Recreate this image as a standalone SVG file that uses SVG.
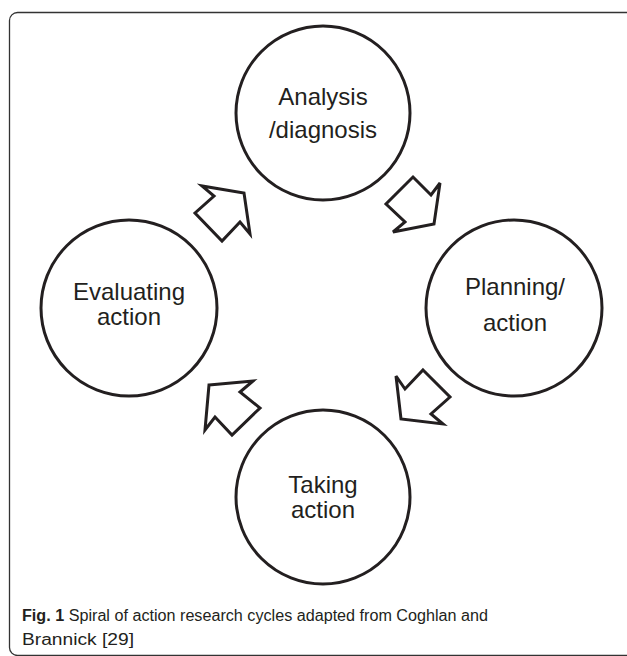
<svg xmlns="http://www.w3.org/2000/svg" width="627" height="656" viewBox="0 0 627 656">
<style>
.node{fill:#fff;stroke:#231f20;stroke-width:3}
.lbl{font-family:"Liberation Sans",Arial,sans-serif;font-size:24px;fill:#231f20;text-anchor:middle}
.arrow{fill:#fff;stroke:#231f20;stroke-width:3;stroke-linejoin:miter}
.cap{font-family:"Liberation Sans",Arial,sans-serif;font-size:16px;fill:#231f20}
</style>
<rect x="9.5" y="12.5" width="640" height="643" rx="8" fill="#fff" stroke="#333" stroke-width="1.3"/>
<g id="analysis">
<circle class="node" cx="323" cy="113" r="87"/>
<text class="lbl" x="323" y="105">Analysis</text>
<text class="lbl" x="323" y="138">/diagnosis</text>
</g>
<g id="planning">
<circle class="node" cx="514" cy="308" r="88"/>
<text class="lbl" x="515" y="295">Planning/</text>
<text class="lbl" x="515" y="331">action</text>
</g>
<g id="taking">
<circle class="node" cx="323" cy="497" r="87"/>
<text class="lbl" x="323" y="493">Taking</text>
<text class="lbl" x="323" y="518">action</text>
</g>
<g id="evaluating">
<circle class="node" cx="129" cy="308" r="88"/>
<text class="lbl" x="129" y="300">Evaluating</text>
<text class="lbl" x="129" y="325">action</text>
</g>
<g id="connectors">
<polygon class="arrow" points="244,193 250,234 240,222 222,241 195,213 214,196 202,186"/>
<polygon class="arrow" points="413,177 431,195 440,183 434,224 393,232 405,222 386,204"/>
<polygon class="arrow" points="423,370 450,397 431,414 443,424 401,419 396,376 405,389"/>
<polygon class="arrow" points="209,385 253,381 240,392 260,408 232,435 215,417 205,430"/>
</g>
<g id="caption">
<text class="cap" x="22" y="621" textLength="466" lengthAdjust="spacingAndGlyphs"><tspan font-weight="bold">Fig. 1</tspan> Spiral of action research cycles adapted from Coghlan and</text>
<text class="cap" x="22" y="645" textLength="112" lengthAdjust="spacingAndGlyphs">Brannick [29]</text>
</g>
</svg>
